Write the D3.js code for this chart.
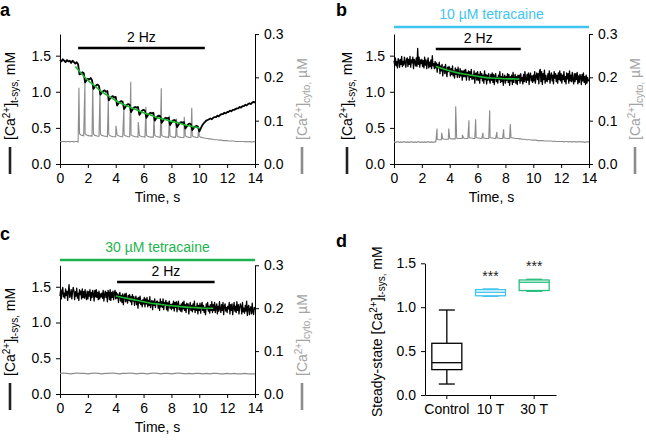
<!DOCTYPE html>
<html><head><meta charset="utf-8">
<script src="https://cdn.jsdelivr.net/npm/d3@7"></script>
<style>body{margin:0;background:#fff} svg{display:block} text{font-family:"Liberation Sans",Arial,Helvetica,sans-serif}</style>
</head><body><svg id="chart" width="646" height="440"></svg>
<script>
// ---------- shared tick values ----------
const timeTicks = [0, 2, 4, 6, 8, 10, 12, 14];
const leftTicks = [0, 0.5, 1.0, 1.5];
const rightTicks = [0, 0.1, 0.2, 0.3];

// ---------- panel a (control) ----------
const aBlack = [
 1.44,1.42,1.45,1.43,1.41,1.44,1.42,1.43,1.40,1.43,
 1.41,1.39,1.41,1.38,1.24,1.25,1.27,1.26,1.13,1.16,
 1.18,1.17,1.19,1.16,1.04,1.07,1.09,1.10,1.08,0.96,
 0.99,1.01,1.02,1.00,1.01,0.88,0.91,0.93,0.94,0.92,
 0.93,0.81,0.84,0.86,0.87,0.86,0.76,0.79,0.82,0.83,
 0.82,0.72,0.75,0.78,0.79,0.78,0.79,0.68,0.71,0.74,
 0.75,0.74,0.64,0.67,0.70,0.71,0.70,0.71,0.60,0.63,
 0.66,0.67,0.66,0.57,0.60,0.63,0.64,0.63,0.64,0.54,
 0.57,0.60,0.61,0.60,0.51,0.54,0.57,0.58,0.57,0.58,
 0.49,0.52,0.55,0.56,0.55,0.47,0.50,0.52,0.53,0.52,
 0.45,0.49,0.53,0.56,0.58,0.60,0.61,0.62,0.63,0.62,
 0.64,0.65,0.65,0.67,0.66,0.68,0.69,0.69,0.71,0.70,
 0.72,0.72,0.74,0.73,0.75,0.75,0.76,0.77,0.77,0.79,
 0.78,0.80,0.80,0.82,0.81,0.83,0.84,0.83,0.85,0.86,
 0.85];
const aGray = [
 0.052,0.051,0.052,0.052,0.051,0.052,0.052,0.051,0.052,0.052,
 0.051,0.052,0.052,0.051,0.070,0.067,0.066,0.065,0.070,0.067,
 0.066,0.065,0.065,0.064,0.069,0.066,0.065,0.064,0.064,0.069,
 0.066,0.065,0.064,0.064,0.063,0.068,0.065,0.064,0.063,0.063,
 0.063,0.067,0.065,0.064,0.063,0.063,0.067,0.065,0.064,0.063,
 0.063,0.067,0.065,0.064,0.063,0.063,0.062,0.066,0.064,0.063,
 0.063,0.062,0.066,0.064,0.063,0.062,0.062,0.062,0.066,0.064,
 0.063,0.062,0.062,0.066,0.064,0.063,0.062,0.062,0.061,0.065,
 0.063,0.062,0.062,0.061,0.065,0.063,0.062,0.061,0.061,0.061,
 0.065,0.063,0.062,0.061,0.061,0.065,0.063,0.062,0.061,0.061,
 0.064,0.062,0.061,0.060,0.060,0.059,0.059,0.058,0.058,0.057,
 0.057,0.056,0.056,0.056,0.055,0.055,0.055,0.054,0.054,0.054,
 0.054,0.053,0.053,0.053,0.053,0.053,0.052,0.052,0.052,0.052,
 0.052,0.052,0.052,0.051,0.052,0.051,0.052,0.051,0.051,0.052,
 0.051];
const aSpikeT = [1.36,1.79,2.35,2.87,3.47,4.02,4.59,5.08,5.62,6.17,6.75,7.27,7.85,8.37,8.92,9.46,9.96];
const aSpikeV = [0.176,0.190,0.183,0.170,0.150,0.088,0.133,0.190,0.097,0.132,0.109,0.175,0.112,0.105,0.109,0.130,0.082];
const aFitT = [1.1,1.5,2,2.5,3,3.5,4,4.5,5,5.5,6,6.5,7,7.5,8,8.5,9,9.5,10];
const aFitV = [1.35,1.26,1.16,1.08,1.00,0.94,0.88,0.83,0.79,0.75,0.71,0.68,0.64,0.62,0.59,0.57,0.54,0.52,0.50];
const aStim = [1.3, 10.4];

// ---------- panel b (10 uM tetracaine) ----------
const bBlack = [
 1.43,1.37,1.47,1.36,1.42,1.33,1.46,1.43,1.34,1.45,1.38,1.49,1.35,1.42,1.37,1.48,1.40,1.34,1.45,1.47,
 1.35,1.45,1.38,1.49,1.34,1.44,1.40,1.48,1.32,1.45,1.42,1.36,1.47,1.35,1.60,1.38,1.48,1.34,1.44,1.39,
 1.45,1.35,1.43,1.33,1.48,1.37,1.44,1.32,1.41,1.47,1.33,1.41,1.35,1.44,1.32,1.50,1.36,1.39,1.32,1.42,
 1.33,1.40,1.27,1.38,1.33,1.41,1.25,1.36,1.29,1.38,1.22,1.33,1.35,1.25,1.38,1.28,1.21,1.34,1.28,1.35,
 1.33,1.22,1.32,1.24,1.36,1.22,1.29,1.19,1.33,1.24,1.31,1.20,1.34,1.25,1.20,1.32,1.22,1.29,1.16,1.29,
 1.21,1.30,1.21,1.31,1.16,1.27,1.22,1.29,1.16,1.28,1.20,1.31,1.17,1.23,1.18,1.29,1.12,1.25,1.26,1.16,
 1.28,1.16,1.24,1.12,1.28,1.19,1.25,1.15,1.23,1.12,1.29,1.17,1.24,1.11,1.23,1.16,1.25,1.17,1.12,1.24,
 1.16,1.26,1.13,1.24,1.10,1.22,1.25,1.14,1.20,1.12,1.23,1.17,1.28,1.13,1.21,1.14,1.25,1.09,1.19,1.23,
 1.12,1.21,1.16,1.25,1.13,1.24,1.09,1.21,1.15,1.23,1.10,1.27,1.13,1.19,1.24,1.12,1.21,1.10,1.23,1.16,
 1.23,1.12,1.25,1.15,1.20,1.11,1.24,1.14,1.28,1.17,1.13,1.24,1.16,1.26,1.10,1.23,1.26,1.15,1.22,1.13,
 1.23,1.15,1.28,1.12,1.21,1.26,1.17,1.25,1.11,1.29,1.31,1.14,1.28,1.10,1.25,1.17,1.30,1.12,1.23,1.15,
 1.14,1.25,1.17,1.29,1.12,1.22,1.26,1.15,1.23,1.11,1.28,1.19,1.25,1.14,1.23,1.12,1.26,1.17,1.29,1.15,
 1.25,1.12,1.23,1.17,1.28,1.14,1.21,1.11,1.26,1.18,1.25,1.12,1.29,1.15,1.23,1.14,1.27,1.17,1.11,1.25,
 1.14,1.25,1.17,1.27,1.11,1.22,1.13,1.24,1.21,1.10,1.24,1.15,1.26,1.13,1.21,1.10,1.23,1.12,1.20,1.15,
 1.17];
const bGray = [
 0.051,0.050,0.051,0.051,0.050,0.051,0.050,0.051,0.051,0.050,
 0.051,0.050,0.051,0.051,0.050,0.051,0.050,0.051,0.051,0.050,
 0.051,0.050,0.051,0.050,0.051,0.051,0.050,0.051,0.050,0.051,
 0.051,
 0.057,0.056,0.056,0.056,0.058,0.057,0.057,0.057,0.057,0.059,
 0.058,0.058,0.058,0.058,0.060,0.059,0.059,0.059,0.059,0.060,
 0.059,0.059,0.059,0.061,0.060,0.060,0.059,0.059,0.061,0.060,
 0.060,0.059,0.059,0.060,0.060,0.059,0.059,0.059,0.061,0.060,
 0.060,0.059,0.059,0.060,0.060,0.059,0.059,0.059,0.060,0.060,
 0.059,0.059,0.059,0.061,0.060,0.060,0.059,0.059,0.059,0.058,
 0.058,0.057,0.057,0.057,0.056,0.056,0.056,0.056,0.055,0.055,
 0.055,0.055,0.054,0.054,0.054,0.054,0.054,0.053,0.053,0.053,
 0.053,0.053,0.053,0.052,0.053,0.052,0.052,0.052,0.052,0.052,
 0.052,0.051,0.052,0.052,0.051,0.052,0.051,0.051,0.052,0.051,
 0.051,0.051,0.052,0.051,0.051,0.051,0.050,0.051,0.051,0.051];
const bSpikeT = [3.09,3.42,3.93,4.43,4.91,5.38,5.86,6.39,6.87,7.39,7.87,8.35];
const bSpikeV = [0.082,0.072,0.082,0.133,0.067,0.101,0.103,0.072,0.124,0.074,0.080,0.092];
const bFitT = [3,3.5,4,4.5,5,5.5,6,6.5,7,7.5,8,8.5,9];
const bFitV = [1.35,1.32,1.29,1.265,1.245,1.23,1.215,1.20,1.19,1.185,1.18,1.178,1.175];
const bStim = [3.0, 9.1];

// ---------- panel c (30 uM tetracaine) ----------
const cBlack = [
 1.37,1.46,1.33,1.44,1.49,1.36,1.41,1.34,1.47,1.38,1.44,1.31,1.43,1.53,1.35,1.38,1.46,1.33,1.43,1.49,
 1.44,1.32,1.43,1.37,1.48,1.34,1.41,1.31,1.46,1.39,1.44,1.33,1.47,1.35,1.43,1.34,1.46,1.37,1.32,1.44,
 1.33,1.43,1.37,1.46,1.31,1.42,1.35,1.45,1.40,1.30,1.45,1.36,1.46,1.35,1.42,1.32,1.44,1.33,1.40,1.36,
 1.41,1.34,1.45,1.30,1.39,1.44,1.35,1.42,1.29,1.45,1.41,1.32,1.46,1.31,1.42,1.35,1.44,1.32,1.41,1.45,
 1.33,1.42,1.34,1.40,1.28,1.38,1.42,1.30,1.38,1.28,1.40,1.25,1.37,1.40,1.29,1.41,1.31,1.27,1.38,1.31,
 1.39,1.29,1.36,1.25,1.39,1.30,1.36,1.24,1.32,1.37,1.25,1.34,1.20,1.35,1.27,1.37,1.25,1.31,1.22,1.32,
 1.26,1.35,1.22,1.33,1.26,1.35,1.22,1.31,1.24,1.36,1.21,1.28,1.31,1.18,1.30,1.24,1.33,1.21,1.27,1.30,
 1.30,1.20,1.28,1.17,1.33,1.22,1.29,1.21,1.33,1.18,1.28,1.24,1.31,1.18,1.28,1.16,1.27,1.30,1.20,1.25,
 1.18,1.26,1.20,1.30,1.16,1.28,1.21,1.29,1.15,1.26,1.30,1.18,1.24,1.16,1.26,1.15,1.28,1.19,1.30,1.17,
 1.25,1.14,1.27,1.20,1.26,1.12,1.22,1.28,1.17,1.24,1.15,1.26,1.18,1.30,1.14,1.22,1.17,1.27,1.12,1.24,
 1.17,1.27,1.13,1.24,1.28,1.17,1.24,1.14,1.21,1.11,1.26,1.19,1.28,1.16,1.23,1.13,1.25,1.17,1.29,1.14,
 1.25,1.17,1.28,1.14,1.21,1.26,1.12,1.23,1.16,1.29,1.19,1.14,1.25,1.17,1.28,1.11,1.23,1.26,1.16,1.21,
 1.14,1.23,1.19,1.28,1.12,1.25,1.17,1.26,1.11,1.21,1.28,1.16,1.23,1.14,1.29,1.17,1.25,1.12,1.21,1.26,
 1.22,1.12,1.28,1.15,1.20,1.13,1.24,1.16,1.30,1.10,1.22,1.24,1.11,1.19,1.22,1.12,1.27,1.15,1.11,1.21,
 1.18];
const cGray = [
 0.048,0.049,0.048,0.047,0.048,0.049,0.048,0.048,
 0.047,0.048,0.049,0.048,0.047,0.048,0.048,0.049,
 0.048,0.047,0.048,0.048,0.049,0.048,0.047,0.048,
 0.048,0.047,0.048,0.049,0.048,0.047,0.048,0.048,
 0.047,0.048,0.049,0.048,0.047,0.048,0.047,0.048,
 0.048,0.047,0.048,0.047,0.048,0.048,0.047,0.047,
 0.048,0.047,0.048,0.047,0.047,0.048,0.047,0.047,
 0.047];
const cSpikeT = [];
const cSpikeV = [];
const cFitT = [4,4.5,5,5.5,6,6.5,7,7.5,8,8.5,9,9.5,10,10.5,11];
const cFitV = [1.37,1.35,1.33,1.31,1.29,1.27,1.26,1.245,1.235,1.225,1.215,1.21,1.205,1.20,1.20];
const cStim = [4.1, 11.1];

// ---------- panel d (box plot) ----------
const boxCats = ["Control", "10 T", "30 T"];
const boxMin = [0.125, 1.124, 1.181];
const boxQ1  = [0.289, 1.130, 1.190];
const boxMed = [0.368, 1.170, 1.284];
const boxQ3  = [0.589, 1.200, 1.310];
const boxMax = [0.968, 1.208, 1.318];
const boxStars = ["", "***", "***"];
const boxTicks = [0, 0.5, 1.0, 1.5];

// ---------- drawing ----------
const COL_GRAY = "#8c8c8c", COL_LABELGRAY = "#a3a3a3", COL_FIT = "#1fb832";
const COL_CYAN = "#40c4f0", COL_GREEN = "#1db34f", COL_TEAL = "#27bd7e";
const svg = d3.select("#chart");
const FS = 14;

function styleAxis(g) {
  g.selectAll("path.domain").attr("stroke", "#000").attr("stroke-width", 1);
  g.selectAll(".tick line").attr("stroke", "#000").attr("stroke-width", 1);
  g.selectAll(".tick text").attr("fill", "#000").attr("font-size", FS)
    .attr("font-family", '"Liberation Sans",Arial,sans-serif');
}

function rotLabel(x, y, parts, color) {
  const t = svg.append("text").attr("transform", `translate(${x},${y}) rotate(-90)`)
    .attr("font-size", FS).attr("fill", color).attr("text-anchor", "start");
  parts.forEach(p => {
    const s = t.append("tspan").text(p.t);
    if (p.k === "sup") s.attr("font-size", 10).attr("dy", -5);
    else if (p.k === "sub") s.attr("font-size", 10).attr("dy", 3);
    if (p.back) s.attr("dy", p.back);
  });
  return t;
}
const leftParts = [{t:"[Ca"},{t:"2+",k:"sup"},{t:"]",back:5},{t:"t-sys,",k:"sub"},{t:" mM",back:-3}];
const rightParts = [{t:"[Ca"},{t:"2+",k:"sup"},{t:"]",back:5},{t:"cyto,",k:"sub"},{t:" \u00b5M",back:-3}];

function tracePanel(o) {
  const x = d3.scaleLinear().domain([0, 14]).range([o.x0, o.x1]);
  const y = d3.scaleLinear().domain([0, 1.8]).range([o.yb, o.yt]);
  const y2 = d3.scaleLinear().domain([0, 0.3]).range([o.yb, o.yt]);

  const gx = svg.append("g").attr("transform", `translate(0,${o.yb})`)
    .call(d3.axisBottom(x).tickValues(timeTicks).tickFormat(d3.format("d")).tickSize(4).tickSizeOuter(0).tickPadding(5));
  styleAxis(gx);
  const gl = svg.append("g").attr("transform", `translate(${o.x0},0)`)
    .call(d3.axisLeft(y).tickValues(leftTicks).tickFormat(d3.format(".1f")).tickSize(4).tickSizeOuter(0).tickPadding(5));
  styleAxis(gl);
  const gr = svg.append("g").attr("transform", `translate(${o.x1},0)`)
    .call(d3.axisRight(y2).tickValues(rightTicks).tickFormat(d3.format(".1f")).tickSize(4).tickSizeOuter(0).tickPadding(5));
  styleAxis(gr);

  // gray cytosolic trace: regular samples merged with spike samples
  const gpts = o.gray.map((v, i) => [14 * i / (o.gray.length - 1), v])
    .concat(o.spikeT.map((t, i) => [t, o.spikeV[i]]))
    .sort((a, b) => a[0] - b[0]);
  svg.append("path").datum(gpts).attr("fill", "none").attr("stroke", COL_GRAY).attr("stroke-width", 1.1)
    .attr("d", d3.line().x(d => x(d[0])).y(d => y2(d[1])));

  // black t-sys trace
  const bpts = o.black.map((v, i) => [14 * i / (o.black.length - 1), v]);
  svg.append("path").datum(bpts).attr("fill", "none").attr("stroke", "#000").attr("stroke-width", o.bw)
    .attr("stroke-linejoin", "round")
    .attr("d", d3.line().x(d => x(d[0])).y(d => y(d[1])));

  // exponential fit
  svg.append("path").datum(o.fitT.map((t, i) => [t, o.fitV[i]])).attr("fill", "none")
    .attr("stroke", COL_FIT).attr("stroke-width", 1.6)
    .attr("d", d3.line().curve(d3.curveMonotoneX).x(d => x(d[0])).y(d => y(d[1])));

  // stimulation bar
  svg.append("line").attr("x1", x(o.stim[0])).attr("x2", x(o.stim[1]))
    .attr("y1", o.stimY).attr("y2", o.stimY).attr("stroke", "#000").attr("stroke-width", 2.6);
  svg.append("text").attr("x", (x(o.stim[0]) + x(o.stim[1])) / 2).attr("y", o.stimY - 6.5)
    .attr("text-anchor", "middle").attr("font-size", FS).text("2 Hz");

  // drug bar
  if (o.drug) {
    svg.append("line").attr("x1", x(0)).attr("x2", x(14)).attr("y1", o.drugY).attr("y2", o.drugY)
      .attr("stroke", o.drugCol).attr("stroke-width", 2.6);
    svg.append("text").attr("x", (x(0) + x(14)) / 2).attr("y", o.drugY - 8.5).attr("text-anchor", "middle")
      .attr("font-size", FS).attr("fill", o.drugCol).text(o.drug);
  }

  // axis titles
  svg.append("text").attr("x", (o.x0 + o.x1) / 2).attr("y", o.yb + 38).attr("text-anchor", "middle")
    .attr("font-size", FS).text("Time, s");
  rotLabel(o.lx, o.labY, leftParts, "#000");
  rotLabel(o.rx, o.labY, rightParts, COL_LABELGRAY);
  svg.append("line").attr("x1", o.lx - 5).attr("x2", o.lx - 5).attr("y1", o.labY + 7).attr("y2", o.labY + 34)
    .attr("stroke", "#222").attr("stroke-width", 2.6);
  svg.append("line").attr("x1", o.rx - 5).attr("x2", o.rx - 5).attr("y1", o.labY + 7).attr("y2", o.labY + 34)
    .attr("stroke", COL_GRAY).attr("stroke-width", 2.6);

  // panel letter
  svg.append("text").attr("x", o.px).attr("y", o.py).attr("font-size", 18).attr("font-weight", "bold").text(o.letter);
}

tracePanel({letter:"a", px:0, py:16, x0:60, x1:255, yb:164, yt:34, black:aBlack, gray:aGray, bw:1.8,
  spikeT:aSpikeT, spikeV:aSpikeV, fitT:aFitT, fitV:aFitV, stim:aStim, stimY:48,
  lx:15, rx:307, labY:140});
tracePanel({letter:"b", px:336, py:16, x0:394, x1:589, yb:164, yt:34, black:bBlack, gray:bGray, bw:1.3,
  spikeT:bSpikeT, spikeV:bSpikeV, fitT:bFitT, fitV:bFitV, stim:bStim, stimY:49,
  drug:"10 \u00b5M tetracaine", drugY:27, drugCol:COL_CYAN, lx:352, rx:640, labY:140});
tracePanel({letter:"c", px:0, py:240, x0:60, x1:255, yb:394, yt:265.3, black:cBlack, gray:cGray, bw:1.3,
  spikeT:cSpikeT, spikeV:cSpikeV, fitT:cFitT, fitV:cFitV, stim:cStim, stimY:282,
  drug:"30 \u00b5M tetracaine", drugY:260, drugCol:COL_GREEN, lx:15, rx:307, labY:376});

// ---------- panel d ----------
(function () {
  const x = d3.scaleBand().domain(boxCats).range([425, 556]).padding(0);
  const y = d3.scaleLinear().domain([0, 1.5]).range([395, 263.3]);
  const gx = svg.append("g").attr("transform", "translate(0,395)")
    .call(d3.axisBottom(x).tickSize(4).tickSizeOuter(0).tickPadding(5));
  styleAxis(gx);
  const gy = svg.append("g").attr("transform", "translate(425,0)")
    .call(d3.axisLeft(y).tickValues(boxTicks).tickFormat(d3.format(".1f")).tickSize(4).tickSizeOuter(0).tickPadding(5));
  styleAxis(gy);
  const cols = ["#000", COL_CYAN, COL_TEAL];
  const bw = 30;
  boxCats.forEach((c, i) => {
    const cx = x(c) + x.bandwidth() / 2;
    const g = svg.append("g").attr("stroke", cols[i]).attr("fill", "none").attr("stroke-width", 1.3);
    g.append("line").attr("x1", cx).attr("x2", cx).attr("y1", y(boxMax[i])).attr("y2", y(boxQ3[i]));
    g.append("line").attr("x1", cx).attr("x2", cx).attr("y1", y(boxQ1[i])).attr("y2", y(boxMin[i]));
    g.append("line").attr("x1", cx - 8).attr("x2", cx + 8).attr("y1", y(boxMax[i])).attr("y2", y(boxMax[i]));
    g.append("line").attr("x1", cx - 8).attr("x2", cx + 8).attr("y1", y(boxMin[i])).attr("y2", y(boxMin[i]));
    g.append("rect").attr("x", cx - bw / 2).attr("width", bw).attr("y", y(boxQ3[i]))
      .attr("height", y(boxQ1[i]) - y(boxQ3[i])).attr("fill", "#fff");
    g.append("line").attr("x1", cx - bw / 2).attr("x2", cx + bw / 2).attr("y1", y(boxMed[i])).attr("y2", y(boxMed[i]));
    if (boxStars[i]) {
      svg.append("text").attr("x", cx).attr("y", y(boxMax[i]) - 8).attr("text-anchor", "middle")
        .attr("font-size", FS).attr("fill", "#222").text(boxStars[i]);
    }
  });
  const t = svg.append("text").attr("transform", "translate(382,417) rotate(-90)").attr("font-size", FS).attr("fill", "#000");
  t.append("tspan").text("Steady-state [Ca");
  t.append("tspan").attr("font-size", 10).attr("dy", -5).text("2+");
  t.append("tspan").attr("dy", 5).text("]");
  t.append("tspan").attr("font-size", 10).attr("dy", 3).text("t-sys,");
  t.append("tspan").attr("dy", -3).text(" mM");
  svg.append("text").attr("x", 336).attr("y", 247).attr("font-size", 18).attr("font-weight", "bold").text("d");
})();
</script>
</body></html>
